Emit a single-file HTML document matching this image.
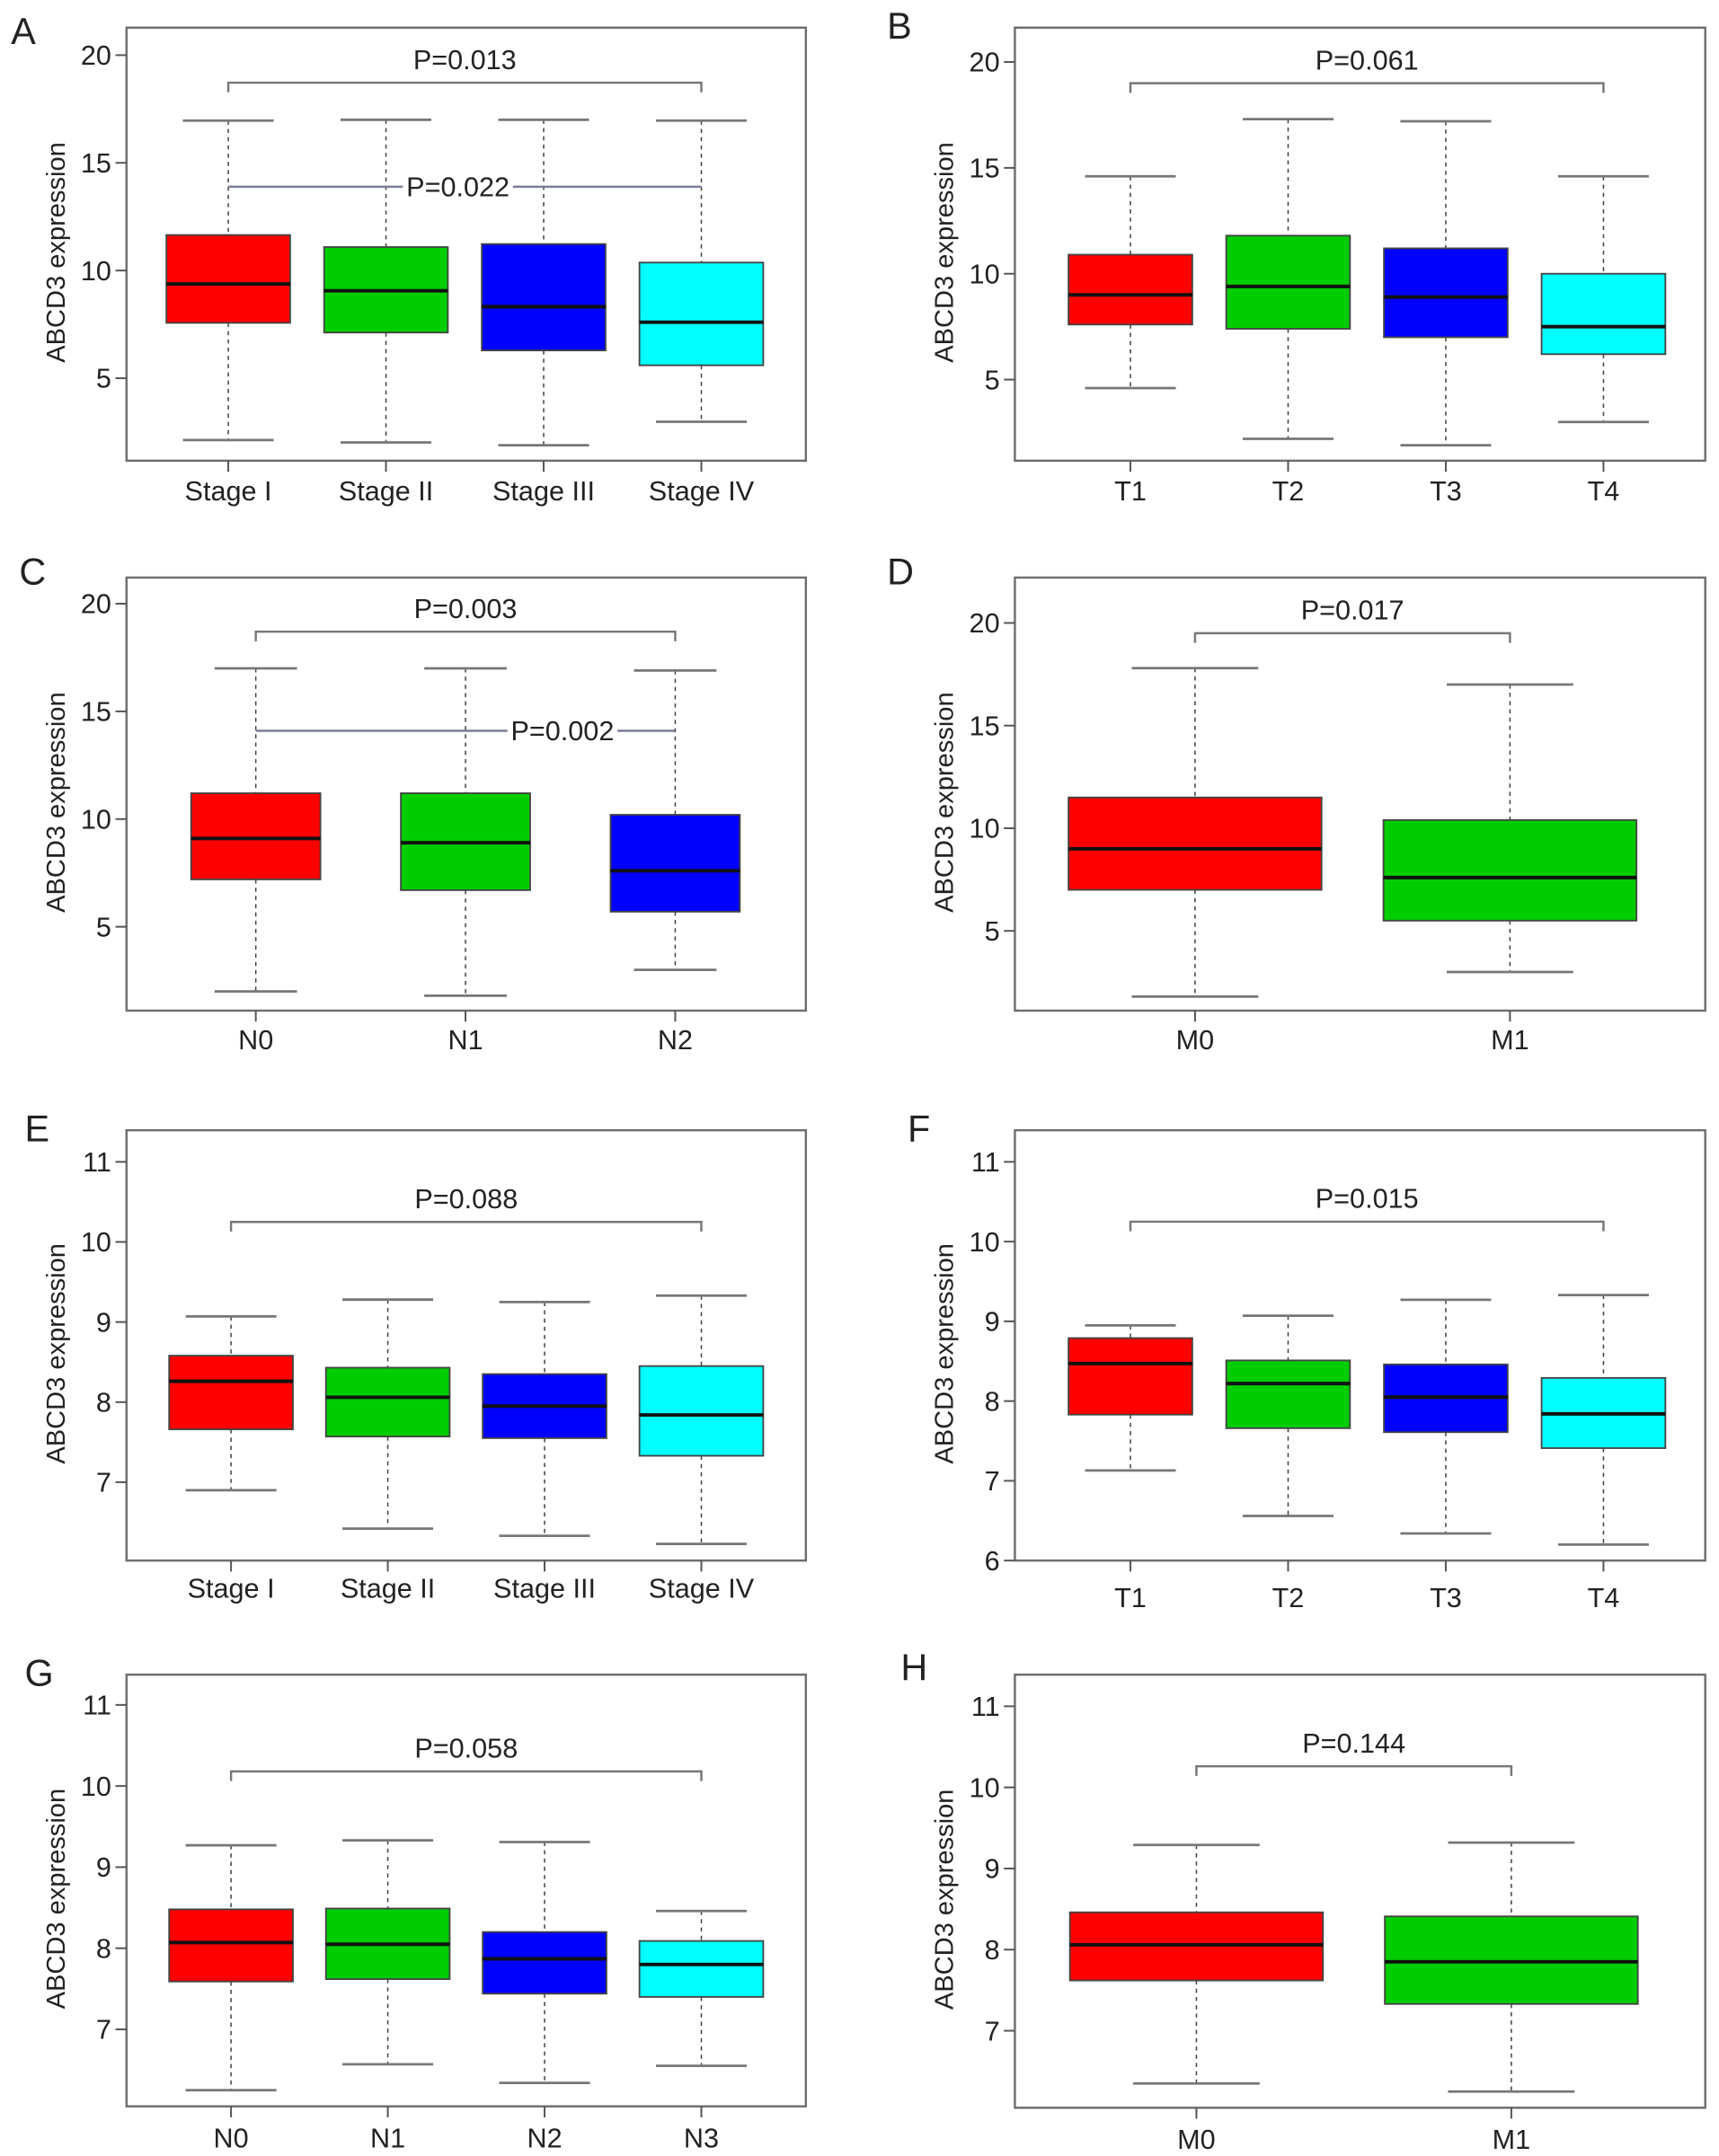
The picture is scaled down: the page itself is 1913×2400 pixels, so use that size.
<!DOCTYPE html>
<html><head><meta charset="utf-8"><title>ABCD3 expression boxplots</title>
<style>
html,body{margin:0;padding:0;background:#fff;}
svg{display:block;}
text{font-family:"Liberation Sans",Arial,sans-serif;fill:#222;}
</style></head>
<body>
<svg id="fig" xmlns="http://www.w3.org/2000/svg" width="1913" height="2400" viewBox="0 0 1250 1568"></svg>
<script>
// Panel A
const aCategories = ["Stage I","Stage II","Stage III","Stage IV"];
const aHigh = [16.96,17.0,17.0,16.96];
const aQ3 = [11.65,11.09,11.23,10.37];
const aMedian = [9.38,9.06,8.32,7.6];
const aQ1 = [7.57,7.12,6.29,5.6];
const aLow = [2.13,2.02,1.89,2.98];
const aTicks = [5,10,15,20];
const aPvals = ["P=0.013","P=0.022"];
// Panel B
const bCategories = ["T1","T2","T3","T4"];
const bHigh = [14.6,17.3,17.2,14.6];
const bQ3 = [10.9,11.8,11.2,10.0];
const bMedian = [9.0,9.4,8.9,7.5];
const bQ1 = [7.6,7.4,7.0,6.2];
const bLow = [4.6,2.2,1.9,3.0];
const bTicks = [5,10,15,20];
const bPvals = ["P=0.061"];
// Panel C
const cCategories = ["N0","N1","N2"];
const cHigh = [17.0,17.0,16.9];
const cQ3 = [11.2,11.2,10.2];
const cMedian = [9.1,8.9,7.6];
const cQ1 = [7.2,6.7,5.7];
const cLow = [2.0,1.8,3.0];
const cTicks = [5,10,15,20];
const cPvals = ["P=0.003","P=0.002"];
// Panel D
const dCategories = ["M0","M1"];
const dHigh = [17.8,17.0];
const dQ3 = [11.5,10.4];
const dMedian = [9.0,7.6];
const dQ1 = [7.0,5.5];
const dLow = [1.8,3.0];
const dTicks = [5,10,15,20];
const dPvals = ["P=0.017"];
// Panel E
const eCategories = ["Stage I","Stage II","Stage III","Stage IV"];
const eHigh = [9.07,9.28,9.25,9.33];
const eQ3 = [8.58,8.43,8.35,8.45];
const eMedian = [8.26,8.06,7.95,7.84];
const eQ1 = [7.66,7.57,7.55,7.33];
const eLow = [6.9,6.42,6.33,6.23];
const eTicks = [7,8,9,10,11];
const ePvals = ["P=0.088"];
// Panel F
const fCategories = ["T1","T2","T3","T4"];
const fHigh = [8.95,9.07,9.27,9.33];
const fQ3 = [8.79,8.51,8.46,8.29];
const fMedian = [8.47,8.22,8.05,7.84];
const fQ1 = [7.83,7.66,7.61,7.41];
const fLow = [7.13,6.56,6.34,6.2];
const fTicks = [6,7,8,9,10,11];
const fPvals = ["P=0.015"];
// Panel G
const gCategories = ["N0","N1","N2","N3"];
const gHigh = [9.27,9.33,9.31,8.46];
const gQ3 = [8.48,8.49,8.2,8.09];
const gMedian = [8.07,8.05,7.87,7.8];
const gQ1 = [7.59,7.62,7.44,7.4];
const gLow = [6.25,6.57,6.34,6.55];
const gTicks = [7,8,9,10,11];
const gPvals = ["P=0.058"];
// Panel H
const hCategories = ["M0","M1"];
const hHigh = [9.29,9.32];
const hQ3 = [8.46,8.41];
const hMedian = [8.06,7.85];
const hQ1 = [7.62,7.33];
const hLow = [6.35,6.25];
const hTicks = [7,8,9,10,11];
const hPvals = ["P=0.144"];

const colors4 = ["#ff0000","#00cd00","#0000ff","#00ffff"];
const NS = "http://www.w3.org/2000/svg";
const svg = document.getElementById("fig");
function mk(tag, attrs, parent, txt){
  const e = document.createElementNS(NS, tag);
  for (const k in attrs) e.setAttribute(k, attrs[k]);
  if (txt !== undefined) e.textContent = txt;
  (parent || svg).appendChild(e);
  return e;
}

function panel(cfg){
  const g = mk("g", {});
  
  
  const yScale = v => cfg.yA + (v - cfg.vA) * (cfg.yB - cfg.yA) / (cfg.vB - cfg.vA);
  const n = cfg.cats.length;
  const xScale = i => cfg.xFirst + i * (cfg.xLast - cfg.xFirst) / Math.max(1, n - 1);
  // letter
  const lt = mk("text", {x: cfg.lx, y: cfg.ly, "font-size": 27}, g, cfg.letter);
  
  
  // frame
  const fr = mk("rect", {x: cfg.x0, y: cfg.y0, width: cfg.x1 - cfg.x0, height: cfg.y1 - cfg.y0, fill: "none", stroke: "#6e6e6e", "stroke-width": 1.6}, g);
  
  
  // y ticks
  cfg.ticks.forEach(t => {
    const y = yScale(t);
    const tl = mk("line", {x1: cfg.x0 - 8, x2: cfg.x0, y1: y, y2: y, stroke: "#555", "stroke-width": 1.3}, g);
    
    
    const tx = mk("text", {x: cfg.x0 - 11, y: y + 7, "font-size": 20, "text-anchor": "end"}, g, String(t));
    
    
  });
  // y title
  const cy = (cfg.y0 + cfg.y1) / 2;
  const yt = mk("text", {x: 0, y: 0, "font-size": 19, "text-anchor": "middle", transform: `translate(${cfg.x0 - 45},${cy + 6}) rotate(-90)`}, g, "ABCD3 expression");
  
  
  // boxes
  for (let i = 0; i < n; i++){
    const x = xScale(i);
    const bg = mk("g", {}, g);
    
    
    const yH = yScale(cfg.high[i]), yL = yScale(cfg.low[i]);
    const yQ3 = yScale(cfg.q3[i]), yQ1 = yScale(cfg.q1[i]), yM = yScale(cfg.med[i]);
    const w1 = mk("line", {x1: x, x2: x, y1: yH, y2: yQ3, stroke: "#444", "stroke-width": 1, "stroke-dasharray": "3,3"}, bg);
    
    
    const w2 = mk("line", {x1: x, x2: x, y1: yQ1, y2: yL, stroke: "#444", "stroke-width": 1, "stroke-dasharray": "3,3"}, bg);
    
    
    const c1 = mk("line", {x1: x - cfg.cap, x2: x + cfg.cap, y1: yH, y2: yH, stroke: "#777", "stroke-width": 1.8}, bg);
    
    
    const c2 = mk("line", {x1: x - cfg.cap, x2: x + cfg.cap, y1: yL, y2: yL, stroke: "#777", "stroke-width": 1.8}, bg);
    
    
    const r = mk("rect", {x: x - cfg.half, y: yQ3, width: 2 * cfg.half, height: yQ1 - yQ3, fill: colors4[i], stroke: "#444", "stroke-width": 1.2}, bg);
    
    
    const m = mk("line", {x1: x - cfg.half, x2: x + cfg.half, y1: yM, y2: yM, stroke: "#111", "stroke-width": 2.6}, bg);
    
    
    const xt = mk("line", {x1: x, x2: x, y1: cfg.y1, y2: cfg.y1 + 8, stroke: "#555", "stroke-width": 1.3}, g);
    
    
    const xl = mk("text", {x: x, y: cfg.y1 + cfg.labOff, "font-size": 20, "text-anchor": "middle"}, g, cfg.cats[i]);
    
    
  }
  // bracket
  const xa = xScale(0), xb = xScale(n - 1);
  const yb = yScale(cfg.brV);
  const br = mk("path", {d: `M${xa},${yb + 7} V${yb} H${xb} V${yb + 7}`, fill: "none", stroke: "#777", "stroke-width": 1.6}, g);
  
  
  const pt = mk("text", {x: (xa + xb) / 2, y: yb - 10, "font-size": 20, "text-anchor": "middle"}, g, cfg.pv[0]);
  
  
  if (cfg.pv.length > 1){
    const y2 = yScale(cfg.br2V);
    const l2 = mk("line", {x1: xa, x2: xb, y1: y2, y2: y2, stroke: "#7a7d9a", "stroke-width": 1.6}, g);
    
    
    const tx = cfg.p2x;
    const bgr = mk("rect", {x: tx - 40, y: y2 - 11, width: 80, height: 22, fill: "#fff"}, g);
    
    
    const p2 = mk("text", {x: tx, y: y2 + 7, "font-size": 20, "text-anchor": "middle"}, g, cfg.pv[1]);
    
    
  }
}

panel({letter:"A", lx:8, ly:32, x0:92, x1:586, y0:20, y1:335, vA:20, yA:40, vB:5, yB:275,
  xFirst:166, xLast:510, half:45, cap:33, labOff:29, ticks:aTicks, cats:aCategories,
  high:aHigh, q3:aQ3, med:aMedian, q1:aQ1, low:aLow, pv:aPvals, brV:18.72, br2V:13.89, p2x:333});
panel({letter:"B", lx:645, ly:28, x0:738, x1:1240, y0:20, y1:335, vA:20, yA:45, vB:5, yB:276,
  xFirst:822, xLast:1166, half:45, cap:33, labOff:29, ticks:bTicks, cats:bCategories,
  high:bHigh, q3:bQ3, med:bMedian, q1:bQ1, low:bLow, pv:bPvals, brV:19.0});
panel({letter:"C", lx:14, ly:425, x0:92, x1:586, y0:420, y1:735, vA:20, yA:439, vB:5, yB:674,
  xFirst:186, xLast:491, half:47, cap:30, labOff:28, ticks:cTicks, cats:cCategories,
  high:cHigh, q3:cQ3, med:cMedian, q1:cQ1, low:cLow, pv:cPvals, brV:18.7, br2V:14.1, p2x:409});
panel({letter:"D", lx:645, ly:425, x0:738, x1:1240, y0:420, y1:735, vA:20, yA:453, vB:5, yB:677,
  xFirst:869, xLast:1098, half:92, cap:46, labOff:28, ticks:dTicks, cats:dCategories,
  high:dHigh, q3:dQ3, med:dMedian, q1:dQ1, low:dLow, pv:dPvals, brV:19.5});
panel({letter:"E", lx:18, ly:830, x0:92, x1:586, y0:822, y1:1135, vA:11, yA:845, vB:7, yB:1078,
  xFirst:168, xLast:510, half:45, cap:33, labOff:27, ticks:eTicks, cats:eCategories,
  high:eHigh, q3:eQ3, med:eMedian, q1:eQ1, low:eLow, pv:ePvals, brV:10.25});
panel({letter:"F", lx:660, ly:830, x0:738, x1:1240, y0:822, y1:1135, vA:11, yA:845, vB:7, yB:1077,
  xFirst:822, xLast:1166, half:45, cap:33, labOff:34, ticks:fTicks, cats:fCategories,
  high:fHigh, q3:fQ3, med:fMedian, q1:fQ1, low:fLow, pv:fPvals, brV:10.25});
panel({letter:"G", lx:18, ly:1226, x0:92, x1:586, y0:1218, y1:1532, vA:11, yA:1240, vB:7, yB:1476,
  xFirst:168, xLast:510, half:45, cap:33, labOff:30, ticks:gTicks, cats:gCategories,
  high:gHigh, q3:gQ3, med:gMedian, q1:gQ1, low:gLow, pv:gPvals, brV:10.18});
panel({letter:"H", lx:655, ly:1222, x0:738, x1:1240, y0:1218, y1:1533, vA:11, yA:1241, vB:7, yB:1477,
  xFirst:870, xLast:1099, half:92, cap:46, labOff:30, ticks:hTicks, cats:hCategories,
  high:hHigh, q3:hQ3, med:hMedian, q1:hQ1, low:hLow, pv:hPvals, brV:10.26});
</script>
</body></html>
